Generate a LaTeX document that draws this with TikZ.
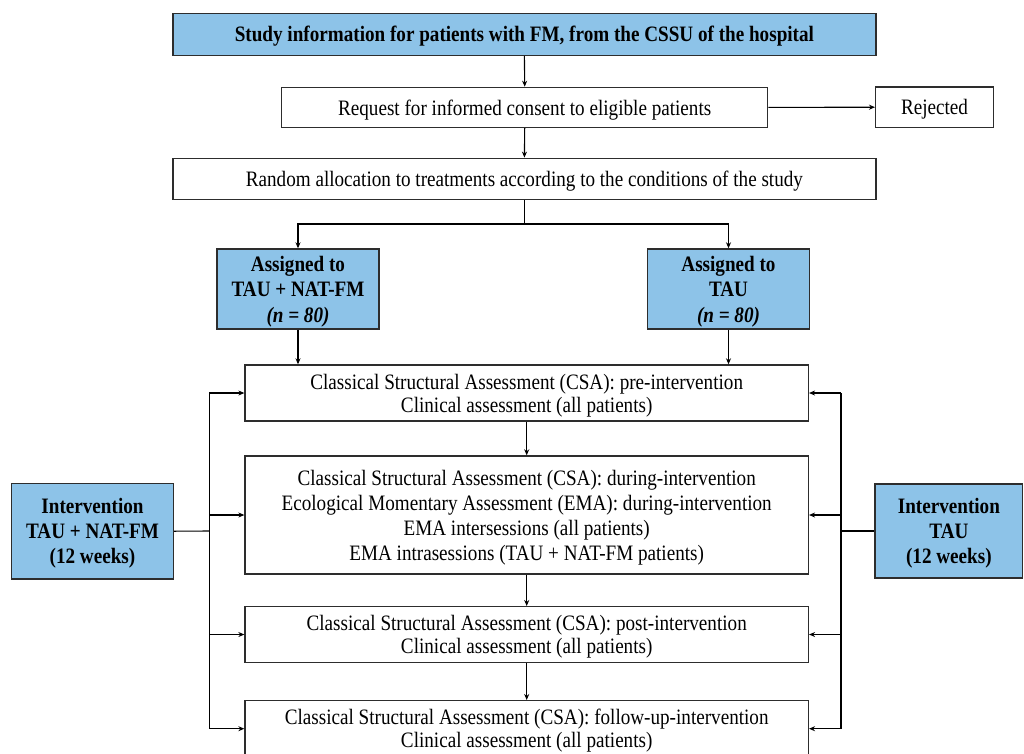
\documentclass[tikz,border=0pt]{standalone}
\usepackage{fontspec}
\setmainfont{Liberation Serif}[FakeStretch=0.87]
\usetikzlibrary{arrows.meta,calc}
\definecolor{boxblue}{RGB}{141,195,232}
\definecolor{edge}{RGB}{45,45,45}
\tikzset{
  box/.style={draw=edge, line width=1.4pt, fill=white, inner sep=0pt, align=center,
    text depth=-2pt, font=\fontsize{22}{23}\selectfont},
  bluebox/.style={box, fill=boxblue, font=\fontsize{22}{25.5}\selectfont\bfseries},
  arr/.style={draw=black, line width=1.1pt, -{Stealth[length=6pt,width=5pt]}},
  wire/.style={draw=black, line width=1.1pt}
}
\begin{document}
\begin{tikzpicture}[x=1pt,y=-1pt]
\useasboundingbox (0,0) rectangle (1024,753);
% top part
\node[bluebox, font=\fontsize{22}{23}\selectfont\bfseries, minimum width=703pt, minimum height=42pt] (top) at (524.4,34.2)
  {Study information for patients with FM, from the CSSU of the hospital};
\node[box, minimum width=486pt, minimum height=40pt] (consent) at (524.7,107.4)
  {Request for informed consent to eligible patients};
\node[box, minimum width=117.6pt, minimum height=40.6pt] (rej) at (934.5,107.2) {Rejected};
\node[box, minimum width=703pt, minimum height=41pt] (random) at (524.4,178.8)
  {Random allocation to treatments according to the conditions of the study};
% assigned
\node[bluebox, minimum width=162pt, minimum height=80pt] (asL) at (298,289)
  {Assigned to\\TAU + NAT-FM\\\textit{(n = 80)}};
\node[bluebox, minimum width=161.6pt, minimum height=80pt] (asR) at (728.5,289)
  {Assigned to\\TAU\\\textit{(n = 80)}};
% assessments
\node[box, minimum width=563.3pt, minimum height=56pt] (b1) at (526.7,393)
  {Classical Structural Assessment (CSA): pre-intervention\\Clinical assessment (all patients)};
\node[box, font=\fontsize{22}{25}\selectfont, minimum width=563.3pt, minimum height=118pt] (b2) at (526.7,515)
  {Classical Structural Assessment (CSA): during-intervention\\Ecological Momentary Assessment (EMA): during-intervention\\EMA intersessions (all patients)\\EMA intrasessions (TAU + NAT-FM patients)};
\node[box, minimum width=563.3pt, minimum height=55.6pt] (b3) at (526.7,634.5)
  {Classical Structural Assessment (CSA): post-intervention\\Clinical assessment (all patients)};
\node[box, minimum width=563.3pt, minimum height=56pt] (b4) at (526.7,728.7)
  {Classical Structural Assessment (CSA): follow-up-intervention\\Clinical assessment (all patients)};
% interventions
\node[bluebox, font=\fontsize{22}{25}\selectfont\bfseries, minimum width=161.6pt, minimum height=95.7pt] (inL) at (92.5,531.2)
  {Intervention\\TAU + NAT-FM\\(12 weeks)};
\node[bluebox, font=\fontsize{22}{25}\selectfont\bfseries, minimum width=147.7pt, minimum height=94pt] (inR) at (948.9,531)
  {Intervention\\TAU\\(12 weeks)};
% connectors top
\draw[arr] (top.south) -- (consent.north);
\draw[arr] (consent.east) -- (rej.west);
\draw[arr] (consent.south) -- (random.north);
\coordinate (split) at ($(random.south)+(0,24)$);
\draw[wire] (random.south) -- (split);
\draw[arr] (split) -| (asL.north);
\draw[arr] (split) -| (asR.north);
\draw[arr] (asL.south) -- (asL.south |- b1.north);
\draw[arr] (asR.south) -- (asR.south |- b1.north);
\draw[arr] (b1.south) -- (b2.north);
\draw[arr] (b2.south) -- (b3.north);
\draw[arr] (b3.south) -- (b4.north);
% left bus
\coordinate (lbus) at (209.3,531);
\draw[wire] (inL.east) -- (lbus);
\draw[wire] (lbus |- b1.west) -- (lbus |- b4.west);
\draw[arr] (lbus |- b1.west) -- (b1.west);
\draw[arr] (lbus |- b2.west) -- (b2.west);
\draw[arr] (lbus |- b3.west) -- (b3.west);
\draw[arr] (lbus |- b4.west) -- (b4.west);
% right bus
\coordinate (rbus) at (841,531);
\draw[wire] (inR.west) -- (rbus);
\draw[wire] (rbus |- b1.east) -- (rbus |- b4.east);
\draw[arr] (rbus |- b1.east) -- (b1.east);
\draw[arr] (rbus |- b2.east) -- (b2.east);
\draw[arr] (rbus |- b3.east) -- (b3.east);
\draw[arr] (rbus |- b4.east) -- (b4.east);
\end{tikzpicture}
\end{document}
